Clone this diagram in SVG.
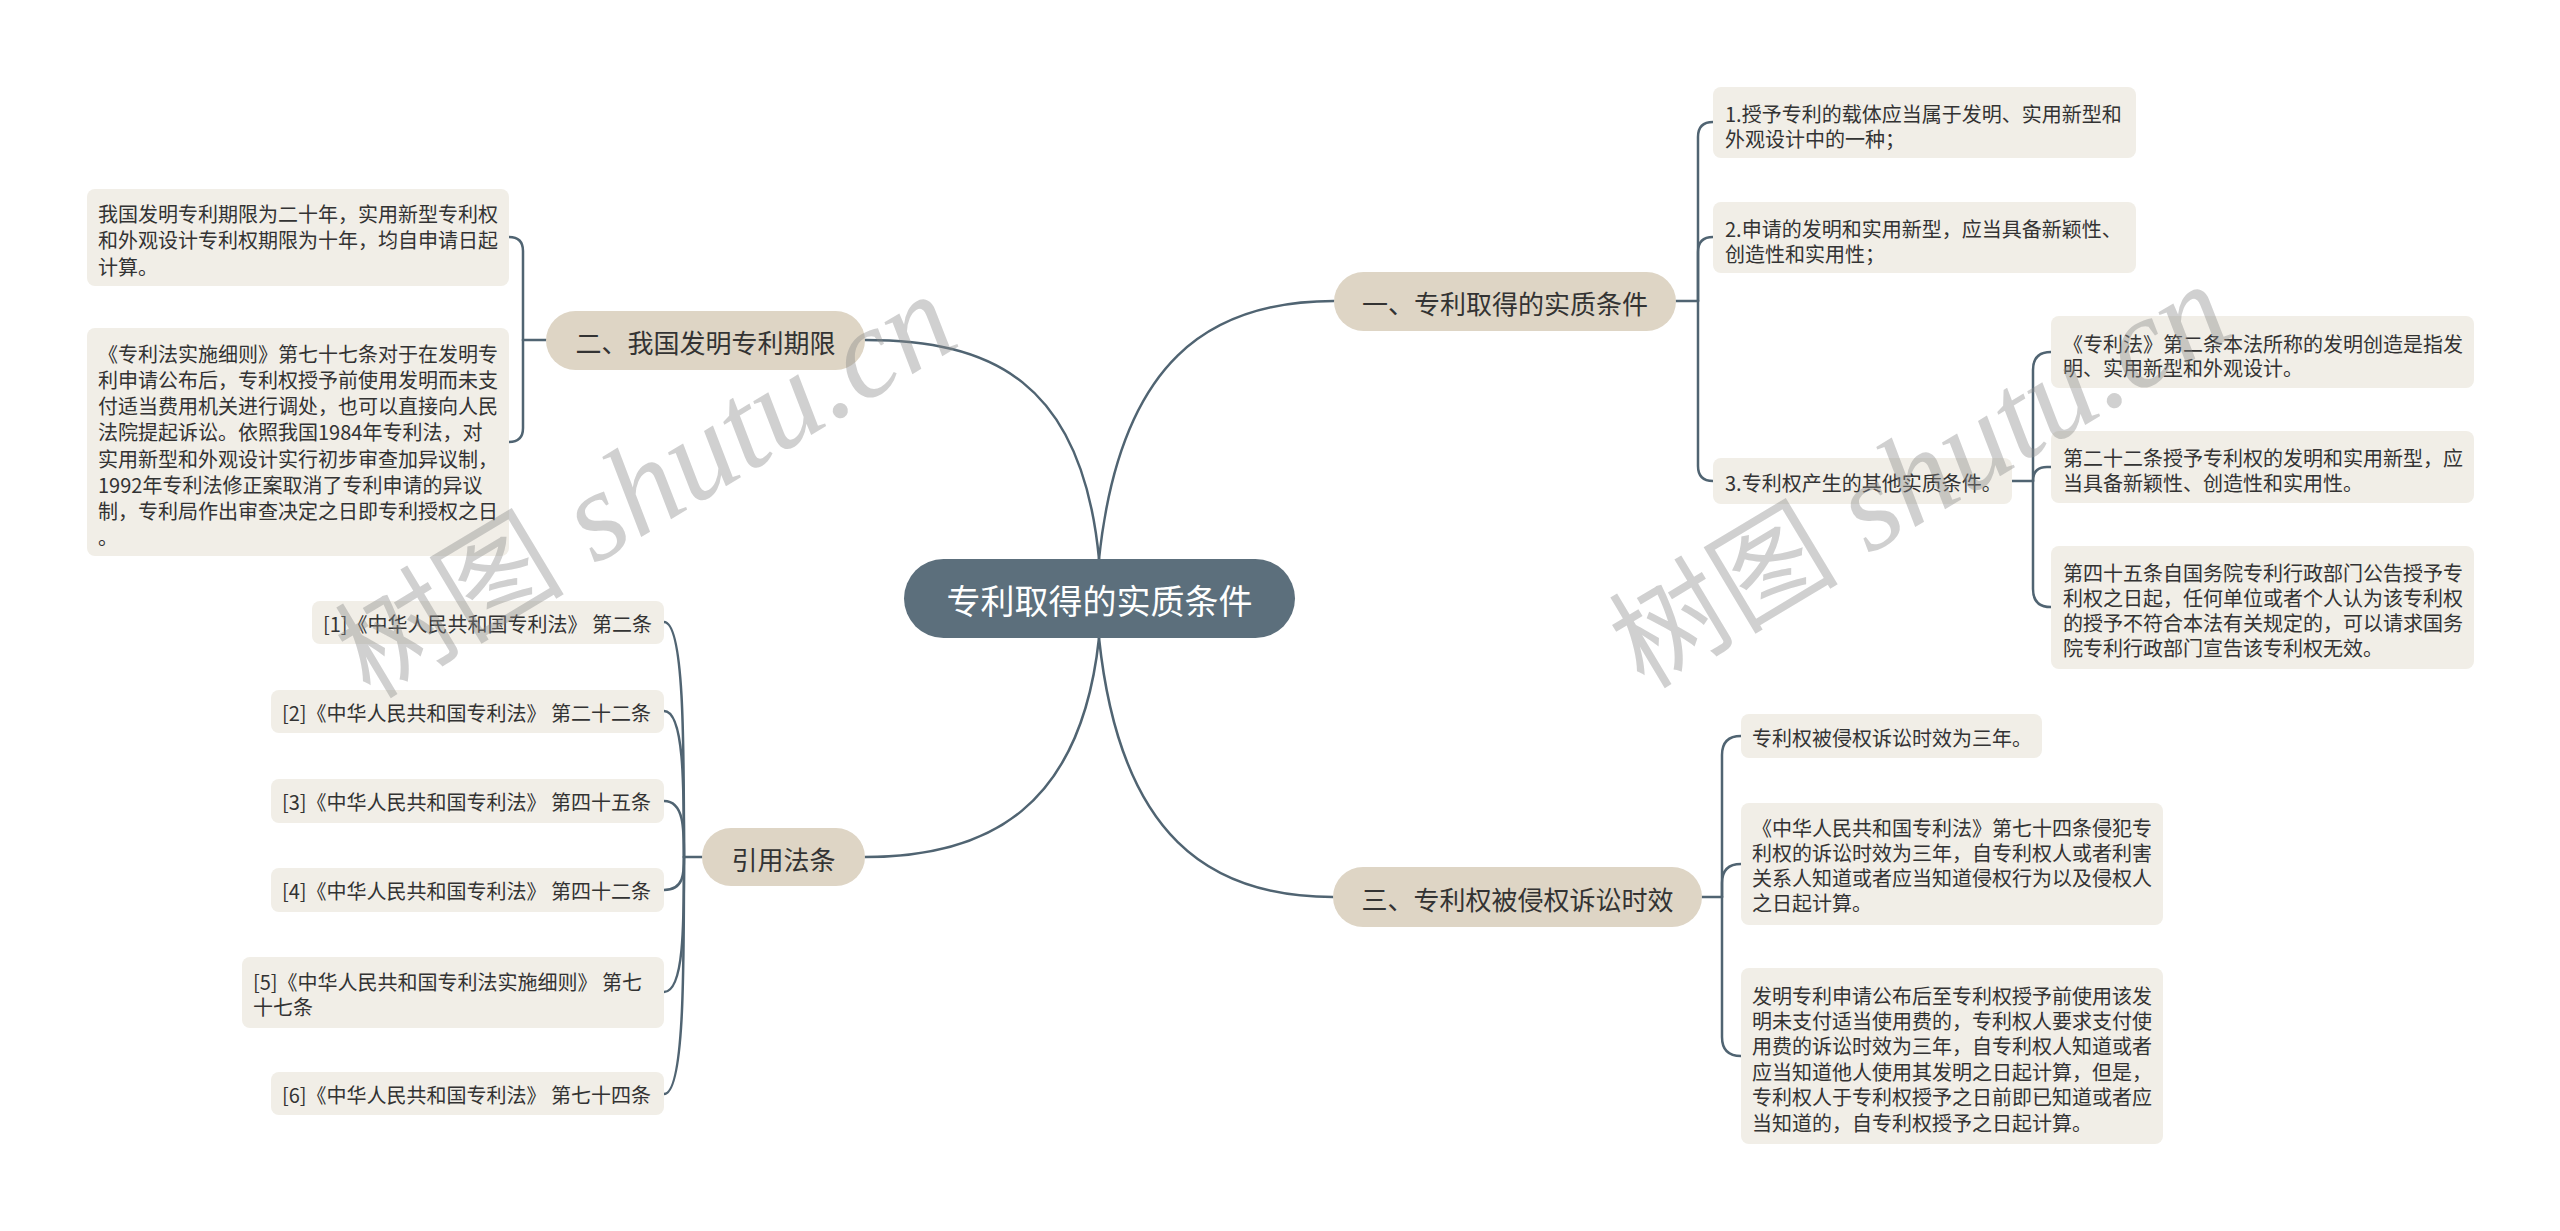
<svg xmlns="http://www.w3.org/2000/svg" width="2560" height="1231" viewBox="0 0 2560 1231">
<style>
.root{fill:#5c6f7c}
.l1{fill:#ded5c5}
.l2{fill:#f1eee7}
text{font-family:"Noto Sans CJK SC","Liberation Sans",sans-serif;dominant-baseline:central}
.t{font-size:20px;fill:#333}
.t1{font-size:26px;fill:#333;text-anchor:middle}
.t0{font-size:34px;fill:#fff;text-anchor:middle}
.c path{fill:none;stroke:#506472;stroke-width:2.5;stroke-linecap:round}
.wm{fill:#8a8a8a;fill-opacity:0.4}
</style>
<rect width="2560" height="1231" fill="#fff"/>
<g class="c" id="connectors">
<path d="M1099,559 C1120,360 1210,301 1334,301"/>
<path d="M1099,559 C1082,380 990,340 865,340"/>
<path d="M1099,638 C1120,837 1210,897 1333,897"/>
<path d="M1099,638 C1081,807 989,857 865,857"/>
<path d="M1676,301 H1698"/>
<path d="M1698,301 V137 Q1698,122 1713,122"/>
<path d="M1698,301 V252 Q1698,237 1713,237"/>
<path d="M1698,301 V466 Q1698,481 1713,481"/>
<path d="M2012,481 H2033"/>
<path d="M2033,481 V370 Q2033,352 2051,352"/>
<path d="M2033,481 Q2033,467 2047,467 L2051,467"/>
<path d="M2033,481 V589 Q2033,607 2051,607"/>
<path d="M1702,897 H1722"/>
<path d="M1722,897 V755 Q1722,736 1741,736"/>
<path d="M1722,897 V883 Q1722,864 1741,864"/>
<path d="M1722,897 V1037 Q1722,1056 1741,1056"/>
<path d="M546,340 H523"/>
<path d="M523,340 V251 Q523,237 509,237"/>
<path d="M523,340 V428 Q523,442 509,442"/>
<path d="M702,857 H684"/>
<path d="M684,857 C684,740 684,622 664,622"/>
<path d="M684,857 C684,784 684,711 664,711"/>
<path d="M684,857 C684,829 684,801 664,801"/>
<path d="M684,857 C684,873 684,890 664,890"/>
<path d="M684,857 C684,925 684,992 664,992"/>
<path d="M684,857 C684,975 684,1094 664,1094"/>
</g>
<g id="root"><rect x="904" y="559" width="391" height="79" rx="39.5" class="root"/><text x="1099.5" y="599" class="t0">专利取得的实质条件</text></g>
<g id="b1"><rect x="1334" y="272" width="342" height="59" rx="29.5" class="l1"/><text x="1505" y="302" class="t1">一、专利取得的实质条件</text></g>
<g id="b2"><rect x="546" y="311" width="319" height="59" rx="29.5" class="l1"/><text x="705.5" y="341" class="t1">二、我国发明专利期限</text></g>
<g id="b3"><rect x="1333" y="867" width="369" height="60" rx="30" class="l1"/><text x="1517.5" y="898" class="t1">三、专利权被侵权诉讼时效</text></g>
<g id="b4"><rect x="702" y="828" width="163" height="58" rx="29" class="l1"/><text x="783.5" y="858" class="t1">引用法条</text></g>
<g id="n1-1"><rect x="1713" y="87" width="423" height="71" rx="8" class="l2"/><text class="t" x="1725" y="113">1.授予专利的载体应当属于发明、实用新型和</text><text class="t" x="1725" y="138">外观设计中的一种；</text></g>
<g id="n1-2"><rect x="1713" y="202" width="423" height="71" rx="8" class="l2"/><text class="t" x="1725" y="228">2.申请的发明和实用新型，应当具备新颖性、</text><text class="t" x="1725" y="253">创造性和实用性；</text></g>
<g id="n1-3"><rect x="1713" y="458" width="299" height="46" rx="8" class="l2"/><text class="t" x="1725" y="482">3.专利权产生的其他实质条件。</text></g>
<g id="n1-3-1"><rect x="2051" y="316" width="423" height="72" rx="8" class="l2"/><text class="t" x="2063" y="343">《专利法》第二条本法所称的发明创造是指发</text><text class="t" x="2063" y="367">明、实用新型和外观设计。</text></g>
<g id="n1-3-2"><rect x="2051" y="431" width="423" height="72" rx="8" class="l2"/><text class="t" x="2063" y="457">第二十二条授予专利权的发明和实用新型，应</text><text class="t" x="2063" y="482">当具备新颖性、创造性和实用性。</text></g>
<g id="n1-3-3"><rect x="2051" y="546" width="423" height="123" rx="8" class="l2"/><text class="t" x="2063" y="572">第四十五条自国务院专利行政部门公告授予专</text><text class="t" x="2063" y="597">利权之日起，任何单位或者个人认为该专利权</text><text class="t" x="2063" y="622">的授予不符合本法有关规定的，可以请求国务</text><text class="t" x="2063" y="647">院专利行政部门宣告该专利权无效。</text></g>
<g id="n3-1"><rect x="1741" y="714" width="301" height="44" rx="8" class="l2"/><text class="t" x="1752" y="737">专利权被侵权诉讼时效为三年。</text></g>
<g id="n3-2"><rect x="1741" y="803" width="422" height="122" rx="8" class="l2"/><text class="t" x="1752" y="827">《中华人民共和国专利法》第七十四条侵犯专</text><text class="t" x="1752" y="852">利权的诉讼时效为三年，自专利权人或者利害</text><text class="t" x="1752" y="877">关系人知道或者应当知道侵权行为以及侵权人</text><text class="t" x="1752" y="902">之日起计算。</text></g>
<g id="n3-3"><rect x="1741" y="968" width="422" height="176" rx="8" class="l2"/><text class="t" x="1752" y="995">发明专利申请公布后至专利权授予前使用该发</text><text class="t" x="1752" y="1020">明未支付适当使用费的，专利权人要求支付使</text><text class="t" x="1752" y="1045">用费的诉讼时效为三年，自专利权人知道或者</text><text class="t" x="1752" y="1071">应当知道他人使用其发明之日起计算，但是，</text><text class="t" x="1752" y="1096">专利权人于专利权授予之日前即已知道或者应</text><text class="t" x="1752" y="1122">当知道的，自专利权授予之日起计算。</text></g>
<g id="n2-1"><rect x="87" y="189" width="422" height="97" rx="8" class="l2"/><text class="t" x="98" y="213">我国发明专利期限为二十年，实用新型专利权</text><text class="t" x="98" y="239">和外观设计专利权期限为十年，均自申请日起</text><text class="t" x="98" y="266">计算。</text></g>
<g id="n2-2"><rect x="87" y="328" width="422" height="228" rx="8" class="l2"/><text class="t" x="98" y="353">《专利法实施细则》第七十七条对于在发明专</text><text class="t" x="98" y="379">利申请公布后，专利权授予前使用发明而未支</text><text class="t" x="98" y="405">付适当费用机关进行调处，也可以直接向人民</text><text class="t" x="98" y="431">法院提起诉讼。依照我国1984年专利法，对</text><text class="t" x="98" y="458">实用新型和外观设计实行初步审查加异议制，</text><text class="t" x="98" y="484">1992年专利法修正案取消了专利申请的异议</text><text class="t" x="98" y="510">制，专利局作出审查决定之日即专利授权之日</text><text class="t" x="98" y="536">。</text></g>
<g id="r1"><rect x="312" y="601" width="352" height="43" rx="8" class="l2"/><text class="t" x="323" y="623">[1]《中华人民共和国专利法》 第二条</text></g>
<g id="r2"><rect x="271" y="690" width="393" height="43" rx="8" class="l2"/><text class="t" x="282" y="712">[2]《中华人民共和国专利法》 第二十二条</text></g>
<g id="r3"><rect x="271" y="779" width="393" height="44" rx="8" class="l2"/><text class="t" x="282" y="801">[3]《中华人民共和国专利法》 第四十五条</text></g>
<g id="r4"><rect x="271" y="868" width="393" height="44" rx="8" class="l2"/><text class="t" x="282" y="890">[4]《中华人民共和国专利法》 第四十二条</text></g>
<g id="r5"><rect x="242" y="957" width="422" height="71" rx="8" class="l2"/><text class="t" x="253" y="981">[5]《中华人民共和国专利法实施细则》 第七</text><text class="t" x="253" y="1006">十七条</text></g>
<g id="r6"><rect x="271" y="1072" width="393" height="43" rx="8" class="l2"/><text class="t" x="282" y="1094">[6]《中华人民共和国专利法》 第七十四条</text></g>
<g id="watermark" class="wm">
<text x="370" y="700" transform="rotate(-31 370 700)" style="dominant-baseline:alphabetic"><tspan font-size="115">树图</tspan><tspan font-size="128" font-family="Liberation Serif, serif" font-style="italic"> shutu.cn</tspan></text>
<text x="1644" y="690" transform="rotate(-31 1644 690)" style="dominant-baseline:alphabetic"><tspan font-size="115">树图</tspan><tspan font-size="128" font-family="Liberation Serif, serif" font-style="italic"> shutu.cn</tspan></text>
</g>
</svg>
